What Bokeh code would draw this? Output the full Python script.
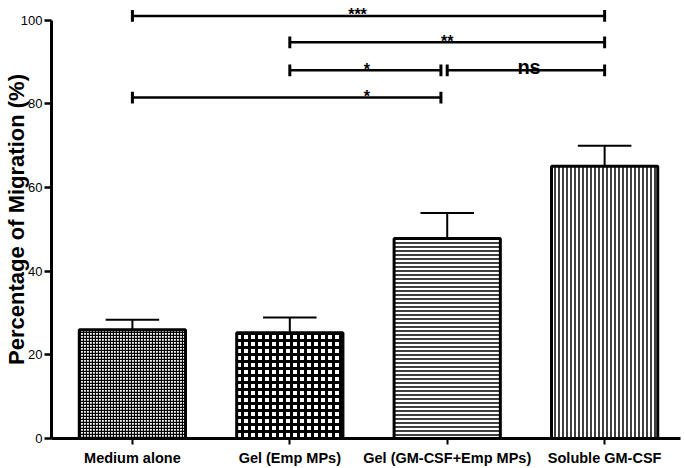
from bokeh.plotting import figure
from bokeh.models import Range1d, FixedTicker
from bokeh.core.properties import value
from bokeh.embed import file_html
from bokeh.resources import INLINE

# ---- data ----
categories = ["Medium alone", "Gel (Emp MPs)", "Gel (GM-CSF+Emp MPs)", "Soluble GM-CSF"]
positions = [1, 2, 3, 4]
means = [26.0, 25.3, 47.8, 65.1]
errors = [2.4, 3.6, 6.1, 4.9]
y_ticks = [0, 20, 40, 60, 80, 100]
y_label = "Percentage of Migration (%)"

# significance brackets
brk_start = [1, 2, 2, 3.0, 1]
brk_end = [4, 4, 2.96, 4, 2.96]
brk_y = [101.0, 94.7, 88.0, 88.0, 81.5]
brk_label = ["***", "**", "*", "ns", "*"]
brk_label_x = [2.43, 3.0, 2.49, 3.52, 2.49]

# ---- styles ----
FONT = "Liberation Sans"
bar_width = 0.675
cap_half = 0.17
tick_half = 1.4

bar_styles = [
    dict(hatch_pattern="cross", hatch_scale=3, hatch_weight=1.3),
    dict(hatch_pattern="cross", hatch_scale=7, hatch_weight=3),
    dict(hatch_pattern="horizontal_line", hatch_scale=4, hatch_weight=1.5),
    dict(hatch_pattern="vertical_line", hatch_scale=4, hatch_weight=1.5),
]

p = figure(width=685, height=468, output_backend="svg", toolbar_location=None,
           x_range=Range1d(0.486, 4.482), y_range=Range1d(0, 104.7),
           min_border_left=50, min_border_right=5, min_border_top=0, min_border_bottom=30)
p.outline_line_color = None
p.xgrid.visible = False
p.ygrid.visible = False
p.background_fill_color = "white"

for i in range(len(categories)):
    p.vbar(x=[positions[i]], top=[means[i]], bottom=0, width=bar_width,
           fill_color="white", line_color="black", line_width=3,
           hatch_color="black", **bar_styles[i])

# error bars (upper only)
upper = [m + e for m, e in zip(means, errors)]
p.segment(x0=positions, y0=means, x1=positions, y1=upper, line_color="black", line_width=2)
p.segment(x0=[x - cap_half for x in positions], y0=upper,
          x1=[x + cap_half for x in positions], y1=upper,
          line_color="black", line_width=2)

# brackets
p.segment(x0=brk_start, y0=brk_y, x1=brk_end, y1=brk_y, line_color="black", line_width=2.5)
p.segment(x0=brk_start, y0=[y - tick_half for y in brk_y], x1=brk_start,
          y1=[y + tick_half for y in brk_y], line_color="black", line_width=3)
p.segment(x0=brk_end, y0=[y - tick_half for y in brk_y], x1=brk_end,
          y1=[y + tick_half for y in brk_y], line_color="black", line_width=3)
for lx, ly, lt in zip(brk_label_x, brk_y, brk_label):
    is_ns = lt == "ns"
    p.text(x=[lx], y=[ly], text=[lt], text_align="center", text_baseline="alphabetic",
           y_offset=-3 if is_ns else -1,
           text_font=value(FONT), text_font_style="bold",
           text_font_size="20px" if is_ns else "16px", text_color="black")

# axes
p.yaxis.ticker = FixedTicker(ticks=y_ticks)
p.yaxis.bounds = (0, 100)
p.yaxis.axis_line_width = 3
p.yaxis.major_tick_line_width = 2.5
p.yaxis.major_tick_out = 7
p.yaxis.major_tick_in = 0
p.yaxis.minor_tick_line_color = None
p.yaxis.major_label_text_font = FONT
p.yaxis.major_label_text_font_size = "13px"
p.yaxis.major_label_text_color = "black"
p.yaxis.major_label_standoff = 2
p.yaxis.axis_label = y_label
p.yaxis.axis_label_text_font = FONT
p.yaxis.axis_label_text_font_style = "bold"
p.yaxis.axis_label_text_font_size = "22px"
p.yaxis.axis_label_text_color = "black"
p.yaxis.axis_label_standoff = -11

p.xaxis.ticker = FixedTicker(ticks=positions)
p.xaxis.major_label_overrides = {pos: cat for pos, cat in zip(positions, categories)}
p.xaxis.axis_line_width = 3
p.xaxis.major_tick_line_width = 2
p.xaxis.major_tick_out = 6
p.xaxis.major_tick_in = 0
p.xaxis.minor_tick_line_color = None
p.xaxis.major_label_text_font = FONT
p.xaxis.major_label_text_font_style = "bold"
p.xaxis.major_label_text_font_size = "14.5px"
p.xaxis.major_label_text_color = "black"
p.xaxis.major_label_standoff = 5

open("out.html", "w").write(file_html(p, INLINE))
